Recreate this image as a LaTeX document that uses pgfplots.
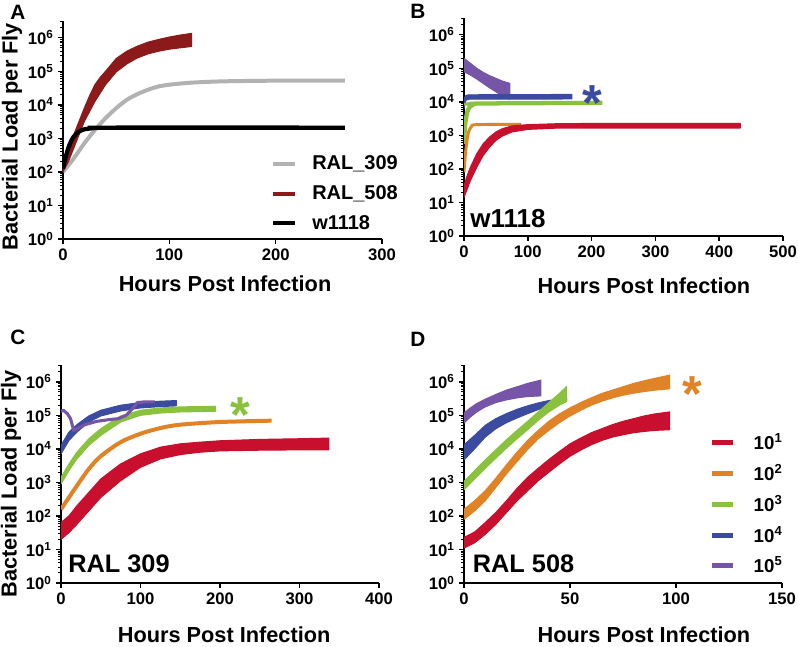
\documentclass[border=0pt]{standalone}
\usepackage{fontspec}
\setmainfont{Liberation Sans}
\usepackage{pgfplots}
\usepackage{pgfplotstable}
\pgfplotsset{compat=1.18}

\definecolor{cRed}{RGB}{200,16,46}
\definecolor{cOrange}{RGB}{224,130,38}
\definecolor{cGreen}{RGB}{138,194,64}
\definecolor{cBlue}{RGB}{59,75,160}
\definecolor{cPurple}{RGB}{118,84,168}
\definecolor{cDark}{RGB}{140,26,26}
\definecolor{cGray}{RGB}{178,178,178}

% Bands: upper edge left to right, then lower edge right to left
% ---------- Panel A ----------
\pgfplotstableread{
h y
0 1.58e2
5 3.98e2
10 1.26e3
15 3.16e3
20 7.94e3
25 1.86e4
30 3.98e4
35 6.61e4
40 1.00e5
50 2.40e5
60 3.98e5
70 5.62e5
80 7.41e5
90 8.91e5
100 1.05e6
110 1.20e6
121 1.35e6
121 5.50e5
110 5.01e5
100 4.57e5
90 3.98e5
80 3.31e5
70 2.51e5
60 1.66e5
50 9.55e4
40 3.98e4
35 2.24e4
30 1.26e4
25 6.31e3
20 3.16e3
15 1.26e3
10 5.01e2
5 2.00e2
0 1.00e2
}\AdarkRed
\pgfplotstableread{
h y
0 1.00e2
10 2.51e2
20 7.08e2
30 1.78e3
40 3.98e3
50 7.94e3
60 1.41e4
70 2.09e4
80 2.82e4
90 3.55e4
100 3.98e4
120 4.57e4
150 5.01e4
200 5.25e4
265 5.25e4
}\Agray
\pgfplotstableread{
h y
0 1.26e2
3 3.16e2
6 6.31e2
10 1.12e3
15 1.58e3
20 1.86e3
30 2.04e3
40 2.09e3
265 2.09e3
}\Ablack
% ---------- Panel B ----------
\pgfplotstableread{
h y
0 3.16e1
5 6.31e1
10 1.12e2
20 2.82e2
30 5.62e2
40 8.91e2
50 1.26e3
60 1.58e3
75 1.91e3
100 2.09e3
150 2.24e3
250 2.29e3
433 2.29e3
433 1.66e3
250 1.66e3
150 1.66e3
100 1.51e3
75 1.26e3
60 9.55e2
50 7.08e2
40 4.47e2
30 2.51e2
20 1.12e2
10 4.47e1
5 2.51e1
0 1.41e1
}\Bred
\pgfplotstableread{
h y
0 7.94e1
2 2.51e2
4 5.62e2
6 1.00e3
8 1.41e3
12 1.86e3
20 2.09e3
90 2.14e3
}\Borange
\pgfplotstableread{
h y
0 5.62e2
1 1.26e3
2 2.24e3
4 3.98e3
6 5.62e3
9 7.08e3
15 8.32e3
25 8.91e3
217 9.33e3
}\Bgreen
\pgfplotstableread{
h y
0 1.26e4
3 1.55e4
8 1.62e4
169 1.66e4
169 1.22e4
8 1.20e4
3 1.12e4
0 6.31e3
}\Bblue
\pgfplotstableread{
h y
0 2.00e5
10 1.41e5
20 1.00e5
30 7.59e4
40 6.03e4
50 5.01e4
60 4.17e4
72 3.55e4
72 1.20e4
60 1.48e4
50 2.00e4
40 2.63e4
30 3.55e4
20 4.79e4
10 6.31e4
0 7.94e4
}\Bpurple
% ---------- Panel C ----------
\pgfplotstableread{
h y
0 6.31e1
10 1.00e2
20 2.00e2
35 5.01e2
50 1.26e3
75 3.55e3
100 7.08e3
125 1.12e4
150 1.41e4
175 1.58e4
200 1.74e4
250 1.91e4
300 2.00e4
337 2.09e4
337 9.33e3
300 9.33e3
250 9.12e3
200 8.71e3
175 7.94e3
150 6.76e3
125 5.01e3
100 2.82e3
75 1.12e3
50 3.55e2
35 1.41e2
20 5.62e1
10 3.16e1
0 2.00e1
}\Cred
\pgfplotstableread{
h y
0 1.58e2
10 3.55e2
20 7.94e2
35 2.51e3
50 6.03e3
75 1.58e4
100 2.82e4
125 4.17e4
150 5.25e4
200 6.31e4
265 6.92e4
}\Corange
\pgfplotstableread{
h y
0 1.41e3
10 3.55e3
20 7.94e3
35 2.00e4
50 3.98e4
75 9.55e4
100 1.41e5
125 1.66e5
150 1.78e5
194 1.86e5
194 1.32e5
150 1.26e5
125 1.17e5
100 1.00e5
75 6.31e4
50 2.51e4
35 1.26e4
20 5.01e3
10 2.24e3
0 8.91e2
}\Cgreen
\pgfplotstableread{
h y
0 1.26e4
5 2.00e4
10 3.16e4
20 5.25e4
35 9.55e4
50 1.41e5
75 2.00e5
100 2.40e5
125 2.63e5
145 2.75e5
145 1.91e5
125 1.82e5
100 1.66e5
75 1.35e5
50 9.55e4
35 6.31e4
20 3.16e4
10 1.78e4
5 1.12e4
0 7.08e3
}\Cblue
\pgfplotstableread{
h y
0 1.32e5
3 1.41e5
8 1.12e5
12 7.94e4
16 3.55e4
20 3.98e4
30 5.25e4
45 6.61e4
60 7.41e4
72 7.94e4
82 1.00e5
90 1.58e5
96 2.40e5
105 2.51e5
118 2.51e5
}\Cpurple
% ---------- Panel D ----------
\pgfplotstableread{
h y
0 2.29e1
5 3.31e1
10 6.31e1
15 1.26e2
20 2.82e2
25 6.61e2
30 1.41e3
35 2.63e3
40 4.79e3
45 8.32e3
50 1.41e4
55 2.09e4
60 3.02e4
65 3.98e4
70 5.25e4
75 6.61e4
80 7.94e4
85 9.55e4
90 1.10e5
97 1.26e5
97 3.72e4
90 3.55e4
85 3.31e4
80 3.02e4
75 2.63e4
70 2.24e4
65 1.78e4
60 1.32e4
55 9.12e3
50 6.03e3
45 3.55e3
40 2.00e3
35 1.12e3
30 5.62e2
25 2.82e2
20 1.26e2
15 5.62e1
10 2.82e1
5 1.58e1
0 1.10e1
}\Dred
\pgfplotstableread{
h y
0 1.58e2
5 2.82e2
10 5.62e2
15 1.32e3
20 3.31e3
25 7.94e3
30 1.78e4
35 3.55e4
40 6.61e4
45 1.10e5
50 1.66e5
55 2.40e5
60 3.31e5
65 4.47e5
70 5.62e5
75 7.08e5
80 8.91e5
85 1.07e6
90 1.26e6
97 1.58e6
97 6.17e5
90 5.62e5
85 5.13e5
80 4.57e5
75 3.98e5
70 3.31e5
65 2.63e5
60 2.00e5
55 1.41e5
50 9.55e4
45 6.03e4
40 3.55e4
35 2.00e4
30 9.55e3
25 4.17e3
20 1.78e3
15 7.08e2
10 2.82e2
5 1.41e2
0 7.94e1
}\Dorange
\pgfplotstableread{
h y
0 1.07e3
5 2.24e3
10 4.68e3
15 9.33e3
20 1.86e4
25 3.55e4
30 6.61e4
35 1.26e5
40 2.40e5
45 4.47e5
48.4 7.24e5
48.4 2.57e5
45 2.00e5
40 1.26e5
35 7.08e4
30 3.72e4
25 2.00e4
20 1.05e4
15 5.25e3
10 2.63e3
5 1.26e3
0 6.03e2
}\Dgreen
\pgfplotstableread{
h y
0 1.32e4
5 2.51e4
10 5.01e4
15 7.94e4
20 1.12e5
25 1.51e5
30 1.91e5
35 2.34e5
40 2.75e5
48.4 3.16e5
48.4 2.63e5
40 1.91e5
35 1.48e5
30 1.12e5
25 8.32e4
20 6.03e4
15 3.98e4
10 2.24e4
5 1.00e4
0 4.68e3
}\Dblue
\pgfplotstableread{
h y
0 1.17e5
3 1.66e5
6 2.24e5
10 3.02e5
15 4.17e5
20 5.62e5
25 7.08e5
30 8.91e5
36.3 1.12e6
36.3 3.80e5
30 3.63e5
25 3.31e5
20 2.88e5
15 2.40e5
10 1.78e5
6 1.26e5
3 8.91e4
0 5.89e4
}\Dpurple

\begin{document}
\bfseries
\begin{tikzpicture}
\path[use as bounding box] (0pt,0pt) rectangle (598.5pt,484.5pt);

% ===== A =====
\begin{axis}[at={(47.25pt,305.25pt)}, anchor=south west,
    scale only axis, width=239.25pt, height=163.5pt,
    ymode=log, ymin=1, ymax=3.1623e6, xmin=0,
    axis x line=bottom, axis y line=left, axis line style={-, line width=1.5pt},
    tick align=outside, major tick length=3.5pt, minor tick length=2pt,
    major tick style={line width=1.1pt, black},
    minor tick style={line width=0.7pt, black},
    ytick={1,10,100,1000,10000,100000,1000000},
    yticklabels={10\textsuperscript{0},10\textsuperscript{1},10\textsuperscript{2},10\textsuperscript{3},10\textsuperscript{4},10\textsuperscript{5},10\textsuperscript{6}},
    minor ytick={2,3,4,5,6,7,8,9,20,30,40,50,60,70,80,90,200,300,400,500,600,700,800,900,2000,3000,4000,5000,6000,7000,8000,9000,2e4,3e4,4e4,5e4,6e4,7e4,8e4,9e4,2e5,3e5,4e5,5e5,6e5,7e5,8e5,9e5,2e6,3e6},
    ticklabel style={font=\fontsize{12.5}{14}\selectfont\bfseries},
    label style={font=\fontsize{16.3}{18}\selectfont\bfseries},
    xlabel={Hours Post Infection},
  xmax=300, xtick={0,100,200,300}, xticklabels={0,100,200,300},
  ylabel={Bacterial Load per Fly},
  xlabel style={at={(axis description cs:0.508,-0.206)}, anchor=center},
  ylabel style={at={(axis description cs:-0.16,0.47)}, anchor=center},
  legend cell align=left,
  legend style={at={(axis description cs:0.652,0.382)}, anchor=north west, draw=none, fill=none,
    inner sep=0pt, row sep=10.2pt,
    font=\fontsize{15}{17}\selectfont\bfseries,
    nodes={inner sep=0pt, font=\fontsize{15}{17}\selectfont\bfseries},
    /tikz/every odd column/.append style={column sep=11.25pt}},
  legend image code/.code={\draw[#1] (0pt,0pt) -- (16.5pt,0pt);},
]
\addplot[cGray, line width=3pt, smooth, forget plot] table[x=h,y=y]{\Agray};
\addplot[fill=cDark, draw=cDark, line width=0.8pt, line join=round, forget plot] table[x=h,y=y]{\AdarkRed};
\addplot[black, line width=3.2pt, smooth, forget plot] table[x=h,y=y]{\Ablack};
\addlegendimage{cGray, line width=3pt}
\addlegendentry{RAL\_309}
\addlegendimage{cDark, line width=3pt}
\addlegendentry{RAL\_508}
\addlegendimage{black, line width=3pt}
\addlegendentry{w1118}
\end{axis}

% ===== B =====
\begin{axis}[at={(348pt,307.5pt)}, anchor=south west,
    scale only axis, width=239.25pt, height=163.5pt,
    ymode=log, ymin=1, ymax=3.1623e6, xmin=0,
    axis x line=bottom, axis y line=left, axis line style={-, line width=1.5pt},
    tick align=outside, major tick length=3.5pt, minor tick length=2pt,
    major tick style={line width=1.1pt, black},
    minor tick style={line width=0.7pt, black},
    ytick={1,10,100,1000,10000,100000,1000000},
    yticklabels={10\textsuperscript{0},10\textsuperscript{1},10\textsuperscript{2},10\textsuperscript{3},10\textsuperscript{4},10\textsuperscript{5},10\textsuperscript{6}},
    minor ytick={2,3,4,5,6,7,8,9,20,30,40,50,60,70,80,90,200,300,400,500,600,700,800,900,2000,3000,4000,5000,6000,7000,8000,9000,2e4,3e4,4e4,5e4,6e4,7e4,8e4,9e4,2e5,3e5,4e5,5e5,6e5,7e5,8e5,9e5,2e6,3e6},
    ticklabel style={font=\fontsize{12.5}{14}\selectfont\bfseries},
    label style={font=\fontsize{16.3}{18}\selectfont\bfseries},
    xlabel={Hours Post Infection},
  xmax=500, xtick={0,100,200,300,400,500}, xticklabels={0,100,200,300,400,500},
  xlabel style={at={(axis description cs:0.564,-0.229)}, anchor=center},
]
\addplot[fill=cPurple, draw=cPurple, line width=0.8pt, line join=round, forget plot] table[x=h,y=y]{\Bpurple};
\addplot[fill=cBlue, draw=cBlue, line width=0.8pt, line join=round, forget plot] table[x=h,y=y]{\Bblue};
\addplot[cGreen, line width=3.2pt, smooth, forget plot] table[x=h,y=y]{\Bgreen};
\addplot[cOrange, line width=2.2pt, smooth, forget plot] table[x=h,y=y]{\Borange};
\addplot[fill=cRed, draw=cRed, line width=0.8pt, line join=round, forget plot] table[x=h,y=y]{\Bred};
\node[anchor=base west, inner sep=0pt, font=\fontsize{19.5}{20}\selectfont\bfseries] at (rel axis cs:0.019,0.041) {w1118};
\node[anchor=north, inner sep=0pt, text=cBlue, font=\fontsize{38}{38}\selectfont\bfseries] at (rel axis cs:0.401,0.69) {*};
\end{axis}

% ===== C =====
\begin{axis}[at={(45.75pt,47.25pt)}, anchor=south west,
    scale only axis, width=238.5pt, height=163.5pt,
    ymode=log, ymin=1, ymax=3.1623e6, xmin=0,
    axis x line=bottom, axis y line=left, axis line style={-, line width=1.5pt},
    tick align=outside, major tick length=3.5pt, minor tick length=2pt,
    major tick style={line width=1.1pt, black},
    minor tick style={line width=0.7pt, black},
    ytick={1,10,100,1000,10000,100000,1000000},
    yticklabels={10\textsuperscript{0},10\textsuperscript{1},10\textsuperscript{2},10\textsuperscript{3},10\textsuperscript{4},10\textsuperscript{5},10\textsuperscript{6}},
    minor ytick={2,3,4,5,6,7,8,9,20,30,40,50,60,70,80,90,200,300,400,500,600,700,800,900,2000,3000,4000,5000,6000,7000,8000,9000,2e4,3e4,4e4,5e4,6e4,7e4,8e4,9e4,2e5,3e5,4e5,5e5,6e5,7e5,8e5,9e5,2e6,3e6},
    ticklabel style={font=\fontsize{12.5}{14}\selectfont\bfseries},
    label style={font=\fontsize{16.3}{18}\selectfont\bfseries},
    xlabel={Hours Post Infection},
  xmax=400, xtick={0,100,200,300,400}, xticklabels={0,100,200,300,400},
  ylabel={Bacterial Load per Fly},
  xlabel style={at={(axis description cs:0.513,-0.237)}, anchor=center},
  ylabel style={at={(axis description cs:-0.157,0.455)}, anchor=center},
]
\addplot[fill=cBlue, draw=cBlue, line width=0.8pt, line join=round, forget plot] table[x=h,y=y]{\Cblue};
\addplot[fill=cGreen, draw=cGreen, line width=0.8pt, line join=round, forget plot] table[x=h,y=y]{\Cgreen};
\addplot[cOrange, line width=3pt, smooth, forget plot] table[x=h,y=y]{\Corange};
\addplot[fill=cRed, draw=cRed, line width=0.8pt, line join=round, forget plot] table[x=h,y=y]{\Cred};
\addplot[cPurple, line width=2.3pt, line join=round, forget plot] table[x=h,y=y]{\Cpurple};
\node[anchor=base west, inner sep=0pt, font=\fontsize{19}{20}\selectfont\bfseries] at (rel axis cs:0.022,0.05) {RAL 309};
\node[anchor=north, inner sep=0pt, text=cGreen, font=\fontsize{38}{38}\selectfont\bfseries] at (rel axis cs:0.563,0.852) {*};
\end{axis}

% ===== D =====
\begin{axis}[at={(348pt,47.25pt)}, anchor=south west,
    scale only axis, width=238.5pt, height=163.5pt,
    ymode=log, ymin=1, ymax=3.1623e6, xmin=0,
    axis x line=bottom, axis y line=left, axis line style={-, line width=1.5pt},
    tick align=outside, major tick length=3.5pt, minor tick length=2pt,
    major tick style={line width=1.1pt, black},
    minor tick style={line width=0.7pt, black},
    ytick={1,10,100,1000,10000,100000,1000000},
    yticklabels={10\textsuperscript{0},10\textsuperscript{1},10\textsuperscript{2},10\textsuperscript{3},10\textsuperscript{4},10\textsuperscript{5},10\textsuperscript{6}},
    minor ytick={2,3,4,5,6,7,8,9,20,30,40,50,60,70,80,90,200,300,400,500,600,700,800,900,2000,3000,4000,5000,6000,7000,8000,9000,2e4,3e4,4e4,5e4,6e4,7e4,8e4,9e4,2e5,3e5,4e5,5e5,6e5,7e5,8e5,9e5,2e6,3e6},
    ticklabel style={font=\fontsize{12.5}{14}\selectfont\bfseries},
    label style={font=\fontsize{16.3}{18}\selectfont\bfseries},
    xlabel={Hours Post Infection},
  xmax=150, xtick={0,50,100,150}, xticklabels={0,50,100,150},
  xlabel style={at={(axis description cs:0.566,-0.237)}, anchor=center},
  legend cell align=left,
  legend style={at={(axis description cs:0.77,0.685)}, anchor=north west, draw=none, fill=none,
    inner sep=0pt, row sep=9.5pt,
    font=\fontsize{14}{16}\selectfont\bfseries,
    nodes={inner sep=0pt, font=\fontsize{14}{16}\selectfont\bfseries},
    /tikz/every odd column/.append style={column sep=13.5pt}},
  legend image code/.code={\draw[#1] (0pt,0pt) -- (16.2pt,0pt);},
]
\addplot[fill=cPurple, draw=cPurple, line width=0.8pt, line join=round, forget plot] table[x=h,y=y]{\Dpurple};
\addplot[fill=cBlue, draw=cBlue, line width=0.8pt, line join=round, forget plot] table[x=h,y=y]{\Dblue};
\addplot[fill=cGreen, draw=cGreen, line width=0.8pt, line join=round, forget plot] table[x=h,y=y]{\Dgreen};
\addplot[fill=cOrange, draw=cOrange, line width=0.8pt, line join=round, forget plot] table[x=h,y=y]{\Dorange};
\addplot[fill=cRed, draw=cRed, line width=0.8pt, line join=round, forget plot] table[x=h,y=y]{\Dred};
\addlegendimage{cRed, line width=3.75pt}
\addlegendentry{10\textsuperscript{1}}
\addlegendimage{cOrange, line width=3.75pt}
\addlegendentry{10\textsuperscript{2}}
\addlegendimage{cGreen, line width=3.75pt}
\addlegendentry{10\textsuperscript{3}}
\addlegendimage{cBlue, line width=3.75pt}
\addlegendentry{10\textsuperscript{4}}
\addlegendimage{cPurple, line width=3.75pt}
\addlegendentry{10\textsuperscript{5}}
\node[anchor=base west, inner sep=0pt, font=\fontsize{19}{20}\selectfont\bfseries] at (rel axis cs:0.027,0.046) {RAL 508};
\node[anchor=north, inner sep=0pt, text=cOrange, font=\fontsize{38}{38}\selectfont\bfseries] at (rel axis cs:0.717,0.95) {*};
\end{axis}

% panel letters
\node[anchor=base west, inner sep=0pt, font=\fontsize{15.6}{16}\selectfont\bfseries] at (7.5pt,469.5pt) {A};
\node[anchor=base west, inner sep=0pt, font=\fontsize{15.6}{16}\selectfont\bfseries] at (307.5pt,470.8pt) {B};
\node[anchor=base west, inner sep=0pt, font=\fontsize{15.6}{16}\selectfont\bfseries] at (7.5pt,225.75pt) {C};
\node[anchor=base west, inner sep=0pt, font=\fontsize{15.6}{16}\selectfont\bfseries] at (307.5pt,224.5pt) {D};
\end{tikzpicture}
\end{document}
